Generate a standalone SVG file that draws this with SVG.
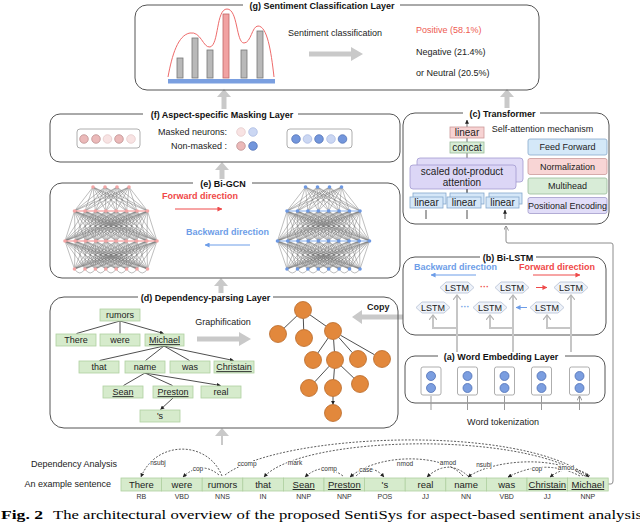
<svg xmlns="http://www.w3.org/2000/svg" width="640" height="527" viewBox="0 0 640 527">
<defs>
<style>
text{font-family:"Liberation Sans",Arial,Helvetica,sans-serif;font-size:9px;fill:#222}
.ttl{font-weight:bold;text-anchor:middle;fill:#111}
.frame{fill:none;stroke:#555;stroke-width:1}
.gap{fill:#fff}
.garrow{fill:#c9c9c9}
.c{text-anchor:middle}
.r{text-anchor:end}
.u{text-decoration:underline}
.tbox{fill:#d6ebcc;stroke:#b0d0a0;stroke-width:0.8}
.tl{stroke:#222;stroke-width:0.8;fill:none;marker-end:url(#ah)}
.dep{fill:none;stroke:#333;stroke-width:0.8;stroke-dasharray:2 1.5;marker-end:url(#ah)}
.dl{font-size:6.5px;text-anchor:middle;stroke:#fff;stroke-width:2;paint-order:stroke;fill:#333}
.pos{font-size:7px;text-anchor:middle;fill:#333}
.hex{fill:#eef2f9;stroke:#b5c0d4;stroke-width:0.8}
.gl{stroke:#c6c6c6;stroke-width:2;fill:none;marker-end:url(#gch)}
.org{fill:#e2883c;stroke:#b96a2a;stroke-width:0.8}
.emb{fill:#fff;stroke:#999;stroke-width:0.8}
.bd{fill:#7b9ee0;stroke:#4f70b5;stroke-width:0.8}
.edge{fill:none;stroke:#6e6e6e;stroke-width:0.45;vector-effect:non-scaling-stroke}
.nbox{fill:#fff;stroke:#999;stroke-width:0.8}
.pk{fill:#ebb9b9;stroke:#b88888;stroke-width:0.7}
.lpk{fill:#f8e3e3;stroke:#e2c6c6;stroke-width:0.7}
.bl{fill:#7396dc;stroke:#4a6cb0;stroke-width:0.7}
.lbl{fill:#cbd7f3;stroke:#a6b6e0;stroke-width:0.7}
.bar{fill:#b9b9b9;stroke:#777;stroke-width:0.8}
.sm{stroke:#222;stroke-width:0.8;fill:none;marker-end:url(#ah)}
</style>
<marker id="ah" viewBox="0 0 6 6" refX="5.5" refY="3" markerWidth="5" markerHeight="5" orient="auto"><path d="M0 0L6 3L0 6z" fill="#222"/></marker>
<marker id="gch" viewBox="0 0 6 8" refX="5" refY="4" markerWidth="6" markerHeight="8" markerUnits="userSpaceOnUse" orient="auto"><path d="M0 0L5 4L0 8" fill="none" stroke="#b5b5b5" stroke-width="1.2"/></marker>
<marker id="gth" viewBox="0 0 6 6" refX="5.5" refY="3" markerWidth="5" markerHeight="5" markerUnits="userSpaceOnUse" orient="auto"><path d="M0 0L6 3L0 6" fill="none" stroke="#888" stroke-width="1"/></marker>
<marker id="ra" viewBox="0 0 6 6" refX="5.5" refY="3" markerWidth="5" markerHeight="5" markerUnits="userSpaceOnUse" orient="auto"><path d="M0 0L6 3L0 6z" fill="#ef4a4a"/></marker>
<marker id="ba" viewBox="0 0 6 6" refX="5.5" refY="3" markerWidth="5" markerHeight="5" markerUnits="userSpaceOnUse" orient="auto"><path d="M0 0L6 3L0 6z" fill="#6d9de8"/></marker>
<path id="f12" class="edge" d="M0 0L-36.5 24M0 0L-26 24M0 0L-15.6 24M0 0L-5.2 24M0 0L5.2 24M0 0L15.6 24M0 0L26 24M0 0L36.5 24"/>
<path id="f23" class="edge" d="M0 0L-46 30M0 0L-35.8 30M0 0L-25.6 30M0 0L-15.3 30M0 0L-5.1 30M0 0L5.1 30M0 0L15.3 30M0 0L25.6 30M0 0L35.8 30M0 0L46 30"/>
<path id="f43" class="edge" d="M0 0L-46 -28M0 0L-35.8 -28M0 0L-25.6 -28M0 0L-15.3 -28M0 0L-5.1 -28M0 0L5.1 -28M0 0L15.3 -28M0 0L25.6 -28M0 0L35.8 -28M0 0L46 -28"/>
<g id="netedges">
<use href="#f12" transform="matrix(1,0,0.75,1,-18,187)"/>
<use href="#f12" transform="matrix(1,0,0.25,1,-6,187)"/>
<use href="#f12" transform="matrix(1,0,-0.25,1,6,187)"/>
<use href="#f12" transform="matrix(1,0,-0.75,1,18,187)"/>
<use href="#f23" transform="matrix(1,0,1.2167,1,-36.5,211)"/>
<use href="#f23" transform="matrix(1,0,0.8667,1,-26,211)"/>
<use href="#f23" transform="matrix(1,0,0.52,1,-15.6,211)"/>
<use href="#f23" transform="matrix(1,0,0.1733,1,-5.2,211)"/>
<use href="#f23" transform="matrix(1,0,-0.1733,1,5.2,211)"/>
<use href="#f23" transform="matrix(1,0,-0.52,1,15.6,211)"/>
<use href="#f23" transform="matrix(1,0,-0.8667,1,26,211)"/>
<use href="#f23" transform="matrix(1,0,-1.2167,1,36.5,211)"/>
<use href="#f43" transform="matrix(1,0,-1.3036,1,-36.5,269)"/>
<use href="#f43" transform="matrix(1,0,-0.9286,1,-26,269)"/>
<use href="#f43" transform="matrix(1,0,-0.5571,1,-15.6,269)"/>
<use href="#f43" transform="matrix(1,0,-0.1857,1,-5.2,269)"/>
<use href="#f43" transform="matrix(1,0,0.1857,1,5.2,269)"/>
<use href="#f43" transform="matrix(1,0,0.5571,1,15.6,269)"/>
<use href="#f43" transform="matrix(1,0,0.9286,1,26,269)"/>
<use href="#f43" transform="matrix(1,0,1.3036,1,36.5,269)"/>
<path class="edge" d="M-36.5 269Q-31.2 277 -26 269Q-20.8 277 -15.6 269Q-10.4 277 -5.2 269Q0 277 5.2 269Q10.4 277 15.6 269Q20.8 277 26 269Q31.2 277 36.5 269"/>
</g>
<g id="netnodes">
<circle cx="-18" cy="187" r="1.8"/><circle cx="-6" cy="187" r="1.8"/><circle cx="6" cy="187" r="1.8"/><circle cx="18" cy="187" r="1.8"/>
<circle cx="-36.5" cy="211" r="1.8"/><circle cx="-26" cy="211" r="1.8"/><circle cx="-15.6" cy="211" r="1.8"/><circle cx="-5.2" cy="211" r="1.8"/><circle cx="5.2" cy="211" r="1.8"/><circle cx="15.6" cy="211" r="1.8"/><circle cx="26" cy="211" r="1.8"/><circle cx="36.5" cy="211" r="1.8"/>
<circle cx="-46" cy="241" r="1.8"/><circle cx="-35.8" cy="241" r="1.8"/><circle cx="-25.6" cy="241" r="1.8"/><circle cx="-15.3" cy="241" r="1.8"/><circle cx="-5.1" cy="241" r="1.8"/><circle cx="5.1" cy="241" r="1.8"/><circle cx="15.3" cy="241" r="1.8"/><circle cx="25.6" cy="241" r="1.8"/><circle cx="35.8" cy="241" r="1.8"/><circle cx="46" cy="241" r="1.8"/>
<circle cx="-36.5" cy="269" r="1.8"/><circle cx="-26" cy="269" r="1.8"/><circle cx="-15.6" cy="269" r="1.8"/><circle cx="-5.2" cy="269" r="1.8"/><circle cx="5.2" cy="269" r="1.8"/><circle cx="15.6" cy="269" r="1.8"/><circle cx="26" cy="269" r="1.8"/><circle cx="36.5" cy="269" r="1.8"/>
</g>
</defs>
<rect width="640" height="527" fill="#fff"/>

<!-- Connectors (drawn first so layer titles sit on top) -->
<g id="connectors">
<path class="garrow" d="M221 445V436H215L222 428L229 436H223V445Z"/>
<path class="garrow" d="M218.5 293V286H214L221 278L228 286H223.5V293Z"/>
<path class="garrow" d="M219.5 179V170H215L222 162L229 170H224.5V179Z"/>
<path class="garrow" d="M221.5 109V97H217L224 89L231 97H226.5V109Z"/>
<path class="garrow" d="M504.5 108V97H500L507 89L514 97H509.5V108Z"/>
<path class="garrow" d="M403 314.5H362V310L352 317L362 324V319.5H403Z"/>
<text x="367" y="310" style="font-weight:bold">Copy</text>
<path d="M608 484H611Q613 484 613 481V245Q613 243 611 243H508Q506 243 506 241V226" fill="none" stroke="#8c8c8c" stroke-width="1" marker-end="url(#gth)"/>
</g>

<!-- (g) Sentiment Classification Layer -->
<g id="g-layer">
<rect class="frame" x="135" y="5" width="404" height="85" rx="12"/>
<rect class="gap" x="243" y="1" width="157" height="8"/>
<text class="ttl" x="322" y="8.5">(g) Sentiment Classification Layer</text>
<rect x="168" y="79" width="107" height="4.5" fill="#7a9fe0"/>
<rect class="bar" x="177" y="58" width="6" height="20"/>
<rect class="bar" x="192" y="38" width="6" height="40"/>
<rect class="bar" x="207" y="50" width="6" height="28"/>
<rect x="223" y="14" width="6" height="64" fill="#f1a2a2" stroke="#c06868" stroke-width="0.8"/>
<rect class="bar" x="241" y="50" width="6" height="28"/>
<rect class="bar" x="257" y="31" width="6" height="47"/>
<path d="M168 77C172 55 178 35 190 33C201 31 203 48 210 47C219 45 216 9 227 9C238 9 236 43 244 43C251 43 252 26 258 26C267 26 271 50 274 77" fill="none" stroke="#ee6b6b" stroke-width="1"/>
<text x="288" y="36">Sentiment classification</text>
<path class="garrow" d="M309 51.5H351V47L363 54L351 61V56.5H309Z"/>
<text x="416" y="33" style="fill:#ee5a52">Positive (58.1%)</text>
<text x="416" y="55">Negative (21.4%)</text>
<text x="416" y="76">or Neutral (20.5%)</text>
</g>

<!-- (f) Aspect-specific Masking Layer -->
<g id="f-layer">
<rect class="frame" x="50" y="114" width="350" height="48" rx="10"/>
<rect class="gap" x="143" y="110" width="155" height="8"/>
<text class="ttl" x="222" y="117.5">(f) Aspect-specific Masking Layer</text>
<rect class="nbox" x="77" y="129" width="63" height="19" rx="3"/>
<circle class="pk" cx="84" cy="139" r="4.3"/><circle class="pk" cx="96" cy="139" r="4.3"/><circle class="lpk" cx="107.5" cy="139" r="4.3"/><circle class="pk" cx="119" cy="139" r="4.3"/><circle class="lpk" cx="131" cy="139" r="4.3"/>
<text class="r" x="227" y="135">Masked neurons:</text>
<circle class="lpk" cx="241" cy="132" r="4.3"/><circle class="lbl" cx="253" cy="132" r="4.3"/>
<text class="r" x="227" y="149">Non-masked :</text>
<circle class="pk" cx="241" cy="146" r="4.3"/><circle class="bl" cx="253" cy="146" r="4.3"/>
<rect class="nbox" x="287" y="129" width="65" height="19" rx="3"/>
<circle class="bl" cx="296" cy="139" r="4.3"/><circle class="lbl" cx="307.5" cy="139" r="4.3"/><circle class="bl" cx="319" cy="139" r="4.3"/><circle class="lbl" cx="331" cy="139" r="4.3"/><circle class="bl" cx="342.5" cy="139" r="4.3"/>
</g>

<!-- (c) Transformer -->
<g id="c-layer">
<rect class="frame" x="403" y="113" width="206" height="111" rx="12"/>
<rect class="gap" x="463" y="109" width="77" height="8"/>
<text class="ttl" x="502.5" y="116.5">(c) Transformer</text>
<text class="c" x="542.5" y="132">Self-attention mechanism</text>
<line x1="467" y1="197" x2="467" y2="120" stroke="#444" stroke-width="0.8" marker-end="url(#ah)"/>
<rect x="450" y="127" width="34" height="11" fill="#f7d3d3" stroke="#c99" stroke-width="0.8"/>
<text class="c" x="467" y="136" style="font-size:10px">linear</text>
<rect x="450" y="142" width="34" height="11" fill="#d7ecd6" stroke="#9b9" stroke-width="0.8"/>
<text class="c" x="467" y="151" style="font-size:10px">concat</text>
<rect x="417" y="158" width="106" height="24" rx="3" fill="#e0dbf7" stroke="#a29ad0" stroke-width="0.8"/>
<rect x="410" y="165" width="106" height="24" rx="3" fill="#dcd6f6" stroke="#a29ad0" stroke-width="0.8"/>
<text class="c" x="462" y="175" style="font-size:10px">scaled dot-product</text>
<text class="c" x="462" y="186" style="font-size:10px">attention</text>
<line x1="467" y1="197" x2="467" y2="189" stroke="#444" stroke-width="0.8"/>
<rect x="413" y="193" width="33" height="11" fill="#d5e7f8" stroke="#84a8cc" stroke-width="0.8"/>
<rect x="410" y="197" width="33" height="11" fill="#d5e7f8" stroke="#84a8cc" stroke-width="0.8"/>
<text class="c" x="426.5" y="206" style="font-size:10px">linear</text>
<rect x="450" y="193" width="34" height="11" fill="#d5e7f8" stroke="#84a8cc" stroke-width="0.8"/>
<rect x="447" y="197" width="34" height="11" fill="#d5e7f8" stroke="#84a8cc" stroke-width="0.8"/>
<text class="c" x="464" y="206" style="font-size:10px">linear</text>
<rect x="489" y="193" width="33" height="11" fill="#d5e7f8" stroke="#84a8cc" stroke-width="0.8"/>
<rect x="486" y="197" width="33" height="11" fill="#d5e7f8" stroke="#84a8cc" stroke-width="0.8"/>
<text class="c" x="502.5" y="206" style="font-size:10px">linear</text>
<path class="sm" d="M426 219V210M467 219V210M505 219V210"/>
<rect x="528" y="139" width="79" height="16" rx="2" fill="#d4e8f8" stroke="#88aacc" stroke-width="0.8"/>
<text class="c" x="567.5" y="150">Feed Forward</text>
<rect x="528" y="158.5" width="79" height="16" rx="2" fill="#f8d5d5" stroke="#cc9999" stroke-width="0.8"/>
<text class="c" x="567.5" y="169.5">Normalization</text>
<rect x="528" y="178" width="79" height="16" rx="2" fill="#d8ecd7" stroke="#99bb99" stroke-width="0.8"/>
<text class="c" x="567.5" y="189">Multihead</text>
<rect x="528" y="197.5" width="79" height="16" rx="2" fill="#e1ddf8" stroke="#a29acc" stroke-width="0.8"/>
<text class="c" x="567.5" y="208.5">Positional Encoding</text>
</g>

<!-- (e) Bi-GCN -->
<g id="e-layer">
<rect class="frame" x="50" y="183" width="350" height="95" rx="12"/>
<rect class="gap" x="193" y="179" width="59" height="8"/>
<text class="ttl" x="223" y="186.5">(e) Bi-GCN</text>
<use href="#netedges" transform="translate(111,0)"/>
<path d="M74.5 211H147.5M65 241H157" stroke="#f28a8a" stroke-width="1"/>
<use href="#netnodes" transform="translate(111,0)" fill="#f3a5a5"/>
<use href="#netedges" transform="translate(323.5,0)"/>
<path d="M287 211H360M277.5 241H369.5" stroke="#86aeea" stroke-width="1"/>
<use href="#netnodes" transform="translate(323.5,0)" fill="#6d98e2"/>
<text class="c" x="200" y="199" style="font-weight:bold;fill:#f04848">Forward direction</text>
<line x1="175" y1="209" x2="222" y2="209" stroke="#ef4a4a" stroke-width="1" marker-end="url(#ra)"/>
<text class="c" x="227.5" y="235" style="font-weight:bold;fill:#6d9de8">Backward direction</text>
<line x1="250" y1="245" x2="205" y2="245" stroke="#6d9de8" stroke-width="1" marker-end="url(#ba)"/>
</g>

<!-- (b) Bi-LSTM -->
<g id="b-layer">
<rect class="frame" x="403" y="257" width="203" height="78" rx="12"/>
<rect class="gap" x="480" y="253" width="56" height="8"/>
<text class="ttl" x="508" y="260.5">(b) Bi-LSTM</text>
<text class="c" x="455.5" y="270" style="font-weight:bold;fill:#6d9de8">Backward direction</text>
<line x1="476" y1="275" x2="431" y2="275" stroke="#6d9de8" stroke-width="1" marker-end="url(#ba)"/>
<text class="c" x="557" y="270" style="font-weight:bold;fill:#f04848">Forward direction</text>
<line x1="533" y1="275" x2="580" y2="275" stroke="#ef4a4a" stroke-width="1" marker-end="url(#ra)"/>
<path class="gl" d="M457 352V295"/>
<path class="gl" d="M513 352V295"/>
<path class="gl" d="M571 352V295"/>
<path class="gl" d="M457 328H433V315"/>
<path class="gl" d="M513 328H490V315"/>
<path class="gl" d="M571 328H547V315"/>
<g id="lstm-t1"><polygon class="hex" points="440,287.5 446,282 468,282 474,287.5 468,293 446,293"/><text class="c" x="457" y="291">LSTM</text></g>
<g id="lstm-t2"><polygon class="hex" points="495,287.5 501,282 523,282 529,287.5 523,293 501,293"/><text class="c" x="512" y="291">LSTM</text></g>
<g id="lstm-t3"><polygon class="hex" points="554,287.5 560,282 582,282 588,287.5 582,293 560,293"/><text class="c" x="571" y="291">LSTM</text></g>
<g id="lstm-b1"><polygon class="hex" points="416,307.5 422,302 444,302 450,307.5 444,313 422,313"/><text class="c" x="433" y="311">LSTM</text></g>
<g id="lstm-b2"><polygon class="hex" points="473,307.5 479,302 501,302 507,307.5 501,313 479,313"/><text class="c" x="490" y="311">LSTM</text></g>
<g id="lstm-b3"><polygon class="hex" points="530,307.5 536,302 558,302 564,307.5 558,313 536,313"/><text class="c" x="547" y="311">LSTM</text></g>
<text class="c" x="484.5" y="290" style="font-weight:bold;fill:#ef4a4a">···</text>
<text class="c" x="465" y="310" style="font-weight:bold;fill:#6d9de8">···</text>
<line x1="536" y1="287.5" x2="547" y2="287.5" stroke="#ef4a4a" stroke-width="1" marker-end="url(#ra)"/>
<line x1="527" y1="307.5" x2="516" y2="307.5" stroke="#6d9de8" stroke-width="1" marker-end="url(#ba)"/>
</g>

<!-- (d) Dependency-parsing Layer -->
<g id="d-layer">
<rect class="frame" x="50" y="297" width="348" height="131" rx="14"/>
<rect class="gap" x="138" y="293" width="135" height="8"/>
<text class="ttl" x="205.5" y="300.5">(d) Dependency-parsing Layer</text>
<path class="tl" d="M120 321L76.5 333.5M120 321V333.5M120 321L163.5 333.5"/>
<path class="tl" d="M164 346L99.5 360.5M164 346L145.5 360.5M164 346L189.5 360.5M164 346L233.5 360.5"/>
<path class="tl" d="M145 373L123.5 385.5M145 373L172.5 385.5M145 373L220.5 385.5"/>
<path class="tl" d="M173 398L160.5 409.5"/>
<rect class="tbox" x="100" y="309" width="40" height="12"/><text class="c" x="120" y="318.2">rumors</text>
<rect class="tbox" x="56" y="334" width="40" height="12"/><text class="c" x="76" y="343.2">There</text>
<rect class="tbox" x="100" y="334" width="40" height="12"/><text class="c" x="120" y="343.2">were</text>
<rect class="tbox" x="145" y="334" width="39" height="12"/><text class="c u" x="164.5" y="343.2">Michael</text>
<rect class="tbox" x="79" y="361" width="40" height="12"/><text class="c" x="99" y="370.2">that</text>
<rect class="tbox" x="125" y="361" width="40" height="12"/><text class="c" x="145" y="370.2">name</text>
<rect class="tbox" x="170" y="361" width="40" height="12"/><text class="c" x="190" y="370.2">was</text>
<rect class="tbox" x="214" y="361" width="40" height="12"/><text class="c u" x="234" y="370.2">Christain</text>
<rect class="tbox" x="103" y="386" width="40" height="12"/><text class="c u" x="123" y="395.2">Sean</text>
<rect class="tbox" x="153" y="386" width="40" height="12"/><text class="c u" x="173" y="395.2">Preston</text>
<rect class="tbox" x="201" y="386" width="40" height="12"/><text class="c" x="221" y="395.2">real</text>
<rect class="tbox" x="140" y="410" width="40" height="12"/><text class="c" x="160" y="419.2">'s</text>
<text class="c" x="223" y="325">Graphification</text>
<path class="garrow" d="M197 336.5H239V332L251 339L239 346V341.5H197Z"/>
<path class="tl" d="M296.9 315.9L284.1 328.1M303.3 318.5L303.7 329.5M310 314.9L326 326.1M328.2 338L317.8 353M333.6 339.5L334.4 351.5M338.7 337.3L352.3 352.7M340.4 335.2L374.6 354.8M329.2 366.2L314.8 381.8M334.4 368.5L333.6 379.5M341.1 365.9L353.9 378.1M333 396.5V404.5"/>
<circle class="org" cx="303" cy="310" r="8.5"/>
<circle class="org" cx="278" cy="334" r="8.5"/><circle class="org" cx="304" cy="338" r="8.5"/><circle class="org" cx="333" cy="331" r="8.5"/>
<circle class="org" cx="313" cy="360" r="8.5"/><circle class="org" cx="335" cy="360" r="8.5"/><circle class="org" cx="358" cy="359" r="8.5"/><circle class="org" cx="382" cy="359" r="8.5"/>
<circle class="org" cx="309" cy="388" r="8.5"/><circle class="org" cx="333" cy="388" r="8.5"/><circle class="org" cx="360" cy="384" r="8.5"/>
<circle class="org" cx="333" cy="413" r="8.5"/>
</g>

<!-- (a) Word Embedding Layer -->
<g id="a-layer">
<rect class="frame" x="405" y="356" width="200" height="47" rx="10"/>
<rect class="gap" x="438" y="352" width="127" height="8"/>
<text class="ttl" x="501" y="359.5">(a) Word Embedding Layer</text>
<rect class="emb" x="421" y="367" width="20" height="28" rx="2"/><circle class="bd" cx="431" cy="376" r="4.5"/><circle class="bd" cx="431" cy="388" r="4.5"/>
<rect class="emb" x="457.5" y="367" width="20" height="28" rx="2"/><circle class="bd" cx="467.5" cy="376" r="4.5"/><circle class="bd" cx="467.5" cy="388" r="4.5"/>
<rect class="emb" x="494.5" y="367" width="20" height="28" rx="2"/><circle class="bd" cx="504.5" cy="376" r="4.5"/><circle class="bd" cx="504.5" cy="388" r="4.5"/>
<rect class="emb" x="531.5" y="367" width="20" height="28" rx="2"/><circle class="bd" cx="541.5" cy="376" r="4.5"/><circle class="bd" cx="541.5" cy="388" r="4.5"/>
<rect class="emb" x="569.5" y="367" width="20" height="28" rx="2"/><circle class="bd" cx="579.5" cy="376" r="4.5"/><circle class="bd" cx="579.5" cy="388" r="4.5"/>
<path d="M431 410V396M467.5 410V396M504.5 410V396M541.5 410V396M579.5 410V396" stroke="#999" stroke-width="1" marker-end="url(#gth)"/>
<text class="c" x="503" y="425">Word tokenization</text>
</g>

<!-- Input sentence -->
<g id="sentence">
<text class="r" x="117" y="467">Dependency Analysis</text>
<text class="r" x="111" y="487">An example sentence</text>
<rect class="tbox" x="121" y="478" width="40.6" height="13"/><text class="c" x="141.3" y="488" style="font-size:9.5px">There</text>
<rect class="tbox" x="161.6" y="478" width="40.6" height="13"/><text class="c" x="181.9" y="488" style="font-size:9.5px">were</text>
<rect class="tbox" x="202.2" y="478" width="40.6" height="13"/><text class="c" x="222.5" y="488" style="font-size:9.5px">rumors</text>
<rect class="tbox" x="242.8" y="478" width="40.6" height="13"/><text class="c" x="263.1" y="488" style="font-size:9.5px">that</text>
<rect class="tbox" x="283.4" y="478" width="40.6" height="13"/><text class="c u" x="303.7" y="488" style="font-size:9.5px">Sean</text>
<rect class="tbox" x="324" y="478" width="40.6" height="13"/><text class="c u" x="344.3" y="488" style="font-size:9.5px">Preston</text>
<rect class="tbox" x="364.6" y="478" width="40.6" height="13"/><text class="c" x="384.9" y="488" style="font-size:9.5px">'s</text>
<rect class="tbox" x="405.2" y="478" width="40.6" height="13"/><text class="c" x="425.5" y="488" style="font-size:9.5px">real</text>
<rect class="tbox" x="445.8" y="478" width="40.6" height="13"/><text class="c" x="466.1" y="488" style="font-size:9.5px">name</text>
<rect class="tbox" x="486.4" y="478" width="40.6" height="13"/><text class="c" x="506.7" y="488" style="font-size:9.5px">was</text>
<rect class="tbox" x="527" y="478" width="40.6" height="13"/><text class="c u" x="547.3" y="488" style="font-size:9.5px">Christain</text>
<rect class="tbox" x="567.6" y="478" width="40.6" height="13"/><text class="c u" x="587.9" y="488" style="font-size:9.5px">Michael</text>
<text class="pos" x="141.3" y="499">RB</text><text class="pos" x="181.9" y="499">VBD</text><text class="pos" x="222.5" y="499">NNS</text><text class="pos" x="263.1" y="499">IN</text><text class="pos" x="303.7" y="499">NNP</text><text class="pos" x="344.3" y="499">NNP</text><text class="pos" x="384.9" y="499">POS</text><text class="pos" x="425.5" y="499">JJ</text><text class="pos" x="466.1" y="499">NN</text><text class="pos" x="506.7" y="499">VBD</text><text class="pos" x="547.3" y="499">JJ</text><text class="pos" x="587.9" y="499">NNP</text>
</g>

<!-- Dependency arcs -->
<g id="dependency-arcs">
<path class="dep" d="M222 476C208 440 156 440 141 477"/>
<path class="dep" d="M219 475Q201 460 183 477"/>
<path class="dep" d="M225 475C280 433 520 423 589 477"/>
<path class="dep" d="M585 476C520 430 300 436 264 477"/>
<path class="dep" d="M343 476Q323 461 305 477"/>
<path class="dep" d="M356 476Q371 462 384 477"/>
<path class="dep" d="M463 476C445 454 380 452 350 477"/>
<path class="dep" d="M468 476Q448 458 427 477"/>
<path class="dep" d="M583 476C560 456 495 458 468 477"/>
<path class="dep" d="M580 476Q545 458 508 477"/>
<path class="dep" d="M590 476Q570 462 550 477"/>
<text class="dl" x="158" y="465">nsubj</text>
<text class="dl" x="198" y="471">cop</text>
<text class="dl" x="247" y="466">ccomp</text>
<text class="dl" x="295" y="465">mark</text>
<text class="dl" x="329" y="471">comp</text>
<text class="dl" x="366" y="472">case</text>
<text class="dl" x="405" y="466">nmod</text>
<text class="dl" x="448" y="465">amod</text>
<text class="dl" x="484" y="467">nsubj</text>
<text class="dl" x="537" y="471">cop</text>
<text class="dl" x="566" y="470">amod</text>
</g>

<!-- Caption -->
<text x="1" y="519" textLength="42" lengthAdjust="spacingAndGlyphs" style="font-family:'Liberation Serif','Times New Roman',serif;font-size:13px;font-weight:bold;fill:#000">Fig. 2</text>
<text x="53" y="519" textLength="589" lengthAdjust="spacingAndGlyphs" style="font-family:'Liberation Serif','Times New Roman',serif;font-size:13px;fill:#000">The architectural overview of the proposed SentiSys for aspect-based sentiment analysis</text>
</svg>
